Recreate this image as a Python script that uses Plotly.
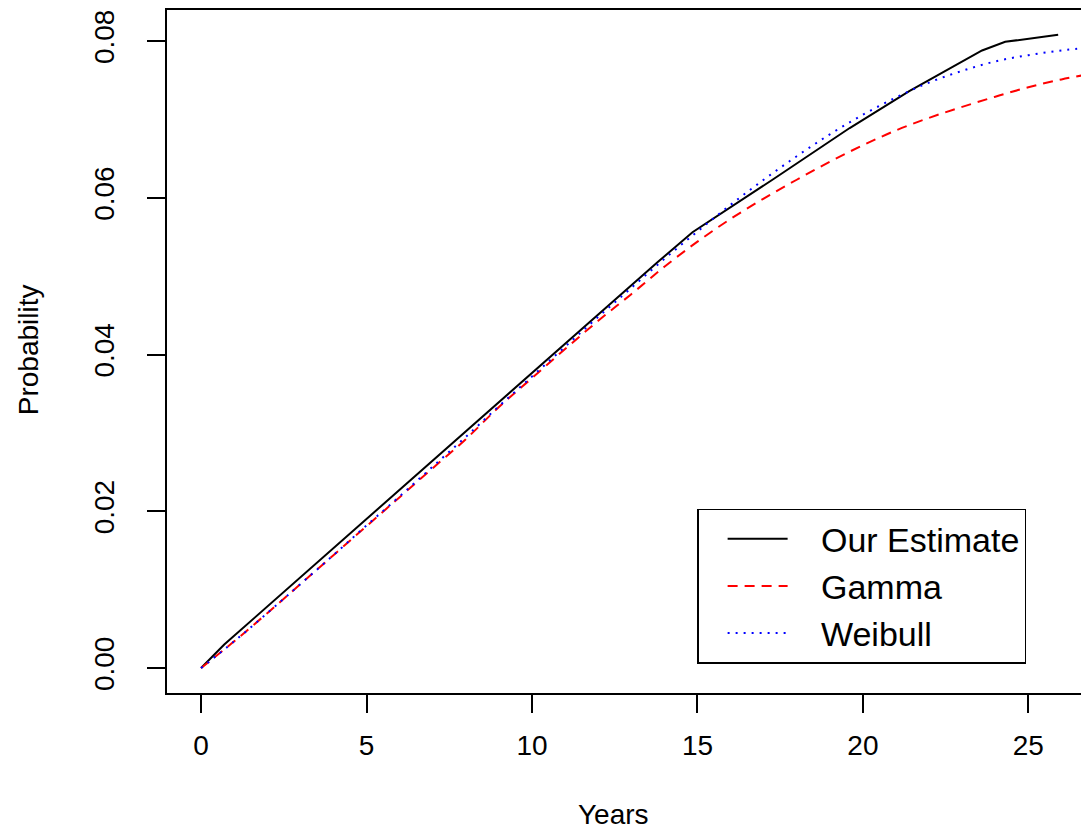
import plotly.graph_objects as go

# ---- data ----
est_years = [0, 0.7, 13.8, 14.85, 17.3, 19.6, 21.4, 23.6, 24.3, 25.9]
est_prob = [0.0, 0.0030, 0.0518, 0.0556, 0.0624, 0.0689, 0.0736, 0.0788, 0.0799, 0.0808]

fit_years = list(range(0, 28))
gamma_prob = [0.0, 0.0034, 0.0070, 0.0107, 0.0144, 0.0181, 0.0218, 0.0255, 0.0292, 0.0333,
              0.0370, 0.0407, 0.0443, 0.0477, 0.0512, 0.0544, 0.0573, 0.0599, 0.0623, 0.0646,
              0.0667, 0.0686, 0.0702, 0.0716, 0.0729, 0.0741, 0.0751, 0.0759]
weibull_prob = [0.0, 0.0034, 0.0070, 0.0107, 0.0144, 0.0182, 0.0219, 0.0257, 0.0295, 0.0334,
                0.0372, 0.0410, 0.0448, 0.0485, 0.0522, 0.0557, 0.0591, 0.0623, 0.0653, 0.0681,
                0.0706, 0.0728, 0.0747, 0.0762, 0.0774, 0.0782, 0.0788, 0.0792]

x_ticks = [0, 5, 10, 15, 20, 25]
y_ticks = [0.00, 0.02, 0.04, 0.06, 0.08]
y_ticktext = ["0.00", "0.02", "0.04", "0.06", "0.08"]
series_names = ["Our Estimate", "Gamma", "Weibull"]

FONT = "Liberation Sans, Arial, Helvetica, sans-serif"
PAD = "\u00a0\u00a0\u00a0"  # visual gap between legend sample and label

fig = go.Figure()
fig.add_trace(go.Scatter(x=est_years, y=est_prob, mode="lines", name=PAD + series_names[0],
                         line=dict(color="black", width=2)))
fig.add_trace(go.Scatter(x=fit_years, y=gamma_prob, mode="lines", name=PAD + series_names[1],
                         line=dict(color="#FF0000", width=2, dash="10px,7px", shape="spline")))
fig.add_trace(go.Scatter(x=fit_years, y=weibull_prob, mode="lines", name=PAD + series_names[2],
                         line=dict(color="#0000FF", width=2, dash="2px,6px", shape="spline")))

fig.update_layout(
    width=1081, height=834,
    margin=dict(l=167, r=0, t=10, b=141, pad=0),
    paper_bgcolor="white", plot_bgcolor="white",
    font=dict(family=FONT, color="black", size=28),
    showlegend=True,
    legend=dict(
        x=0.58, y=0.27, xanchor="left", yanchor="top",
        bgcolor="white", bordercolor="black", borderwidth=1.5,
        font=dict(family=FONT, size=34, color="black"),
        itemwidth=60, indentation=24, tracegroupgap=0,
    ),
    annotations=[
        dict(text="Years", xref="paper", yref="paper", x=0.489, y=-0.1786,
             xanchor="center", yanchor="middle", showarrow=False,
             font=dict(family=FONT, size=28, color="black")),
        dict(text="Probability", xref="paper", yref="paper", x=-0.152, y=0.502,
             xanchor="center", yanchor="middle", showarrow=False, textangle=-90,
             font=dict(family=FONT, size=28, color="black")),
    ],
)

fig.update_xaxes(
    range=[-1.03, 26.59], tickvals=x_ticks, ticks="outside", ticklen=18, tickwidth=1.5,
    tickcolor="black", showline=True, linecolor="black", linewidth=1.5, mirror=True,
    showgrid=False, zeroline=False, ticklabelstandoff=9,
    tickfont=dict(family=FONT, size=28, color="black"),
)
fig.update_yaxes(
    range=[-0.00319, 0.08396], tickvals=y_ticks, ticktext=y_ticktext, tickangle=-90,
    ticks="outside", ticklen=18, tickwidth=1.5, tickcolor="black",
    showline=True, linecolor="black", linewidth=1.5, mirror=False,
    showgrid=False, zeroline=False, ticklabelstandoff=22,
    tickfont=dict(family=FONT, size=28, color="black"),
)

fig.write_html(
    "out.html",
    config={"displayModeBar": False},
    post_script="document.body.style.margin='0';document.body.style.overflow='hidden';",
)
